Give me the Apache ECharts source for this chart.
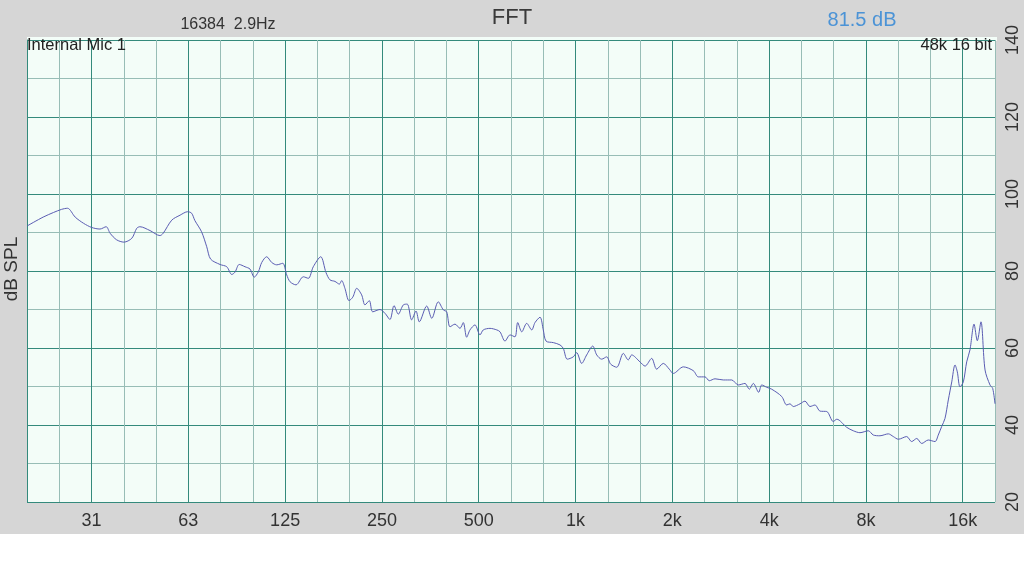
<!DOCTYPE html>
<html><head><meta charset="utf-8">
<script src="https://cdn.jsdelivr.net/npm/echarts@6/dist/echarts.min.js"></script>
<style>html,body{margin:0;padding:0;background:#fff}#c{width:1024px;height:576px}</style>
</head><body><div id="c"></div>
<script>
// Frequencies (Hz) of the traced curve points
const freqs = [19.7,22.1,23.8,25.2,26.3,27.8,29.5,31.3,33.2,34.7,35.7,37.4,39.4,41.7,43.2,44.2,47.5,51.0,52.2,55.5,
58.9,62.2,64.0,65.5,68.7,71.3,73.3,78.4,82.3,85.3,87.3,90.0,93.8,97.2,100.2,103.2,105.7,109.5,113.6,117.7,
122.9,126.4,129.5,135.1,142.4,147.6,152.9,161.3,167.5,172.3,178.6,184.3,187.4,191.8,197.5,202.9,208.7,216.2,221.4,228.4,
234.0,246.5,255.6,264.8,272.6,281.1,291.4,299.7,309.3,319.1,326.7,344.5,357.2,374.2,388.1,397.5,407,421.8,437.2,447.6,
458.6,469.7,486.7,504.6,516.6,542.1,568.9,582.4,603.5,625.6,648.3,660.9,680.4,705,730.8,748.1,775.5,793.8,809.6,853,
894.6,916,942.5,984.1,1008,1045,1083,1131,1164,1206,1250,1286,1343,1408,1459,1495,1586,1645,1725,1788,
1875,1957,2014,2164,2325,2409,2527,2606,2715,2881,3059,3208,3365,3470,3571,3712,3793,3931,4075,4377,
4536,4644,4755,4990,5171,5360,5554,5761,6043,6330,6492,6970,7308,7666,8135,8432,8845,9390,9732,10090,
10710,11100,11510,11930,12500,13120,13430,13760,14090,14430,14790,15140,15390,15690,16070,16460,16850,17350,17760,18230,
18770,19450,19830,20160];
// Sound pressure level (dB SPL) at those frequencies
const spl = [91.7,94.0,95.2,96.0,96.3,94.0,92.4,91.3,90.9,91.5,89.8,88.1,87.5,88.5,91.1,91.5,90.5,89.2,89.8,93.2,
94.5,95.4,95.0,93.1,90.2,86.3,83.1,81.7,81.1,79.1,79.7,81.7,81.1,80.5,78.4,79.8,82.2,83.7,82.2,81.6,
82.0,79.0,77.2,76.4,78.5,78.1,81.1,83.7,79.6,77.7,77.3,76.6,77.5,75.5,72.3,73.2,75.5,73.8,71.2,72.3,
69.4,70.0,69.0,67.4,71.0,68.8,71.2,71.4,67.3,69.6,66.8,70.9,67.7,72.0,69.9,69.4,65.5,66.2,65.1,66.6,
62.8,64.7,66.0,63.4,64.7,65.1,64.7,64.2,61.8,63.4,62.9,66.6,64.2,66.4,64.7,66.6,68.0,64.7,61.8,61.4,
60.8,59.9,57.1,57.7,58.8,56.0,58.2,60.5,58.2,57.1,57.7,55.8,55.0,58.6,56.9,58.2,56.4,55.3,57.3,54.5,
56.0,54.5,53.4,55.1,54.1,52.5,52.5,51.5,52.0,51.7,51.7,50.4,50.8,49.3,50.8,48.5,50.4,49.8,49.3,47.4,
45.2,45.5,44.8,45.5,46.2,44.8,45.2,43.6,43.5,40.9,41.5,39.4,38.5,38.0,38.5,37.4,37.2,37.7,37.0,36.3,
37.0,35.7,36.5,35.2,36.1,35.7,37.4,39.6,41.7,46.5,51.2,55.6,53.8,49.9,51.2,56.4,59.5,66.2,61.9,66.8,
54.3,50.4,49.5,45.5];
// Octave tick frequencies and their labels
const tickFreqs = [31.25,62.5,125,250,500,1000,2000,4000,8000,16000];
const tickLabels = ['31','63','125','250','500','1k','2k','4k','8k','16k'];
// Labelled dB ticks
const yTickLabels = [20,40,60,80,100,120,140];

const FONT = "'Liberation Sans', Arial, sans-serif";
const MAJ = '#348a7c';
const MIN = '#97bdb6';
const MINT = '#f3fdf8';
const GRAY = '#d6d6d6';
const toThirds = f => 3 * Math.log2(f / 1000);

const chart = echarts.init(document.getElementById('c'), null, {renderer: 'canvas'});
chart.setOption({
  animation: false,
  backgroundColor: '#ffffff',
  grid: {left: 27, right: 29, top: 40, bottom: 74, show: true, backgroundColor: MINT, borderWidth: 0},
  xAxis: {
    type: 'value', min: -17, max: 13, interval: 1,
    axisLine: {show: false}, axisTick: {show: false},
    splitLine: {show: true, showMinLine: true, showMaxLine: true, lineStyle: {color: [MIN, MIN, MAJ], width: 1}},
    axisLabel: {
      interval: 0, margin: 10, fontSize: 18, color: '#333', fontFamily: FONT, hideOverlap: false,
      formatter: v => {
        const i = tickFreqs.findIndex(f => Math.abs(toThirds(f) - v) < 0.01);
        return i >= 0 ? tickLabels[i] : '';
      }
    }
  },
  yAxis: [{
    type: 'value', position: 'right', min: 20, max: 140, interval: 10,
    axisLine: {show: false}, axisTick: {show: false},
    splitLine: {show: true, showMinLine: true, showMaxLine: true, lineStyle: {color: [MAJ, MIN], width: 1}},
    axisLabel: {
      rotate: 90, margin: 9, fontSize: 18, color: '#333', fontFamily: FONT,
      formatter: v => yTickLabels.includes(v) ? String(v) : ''
    }
  }, {
    type: 'value', position: 'left', min: 20, max: 140,
    axisLine: {show: true, lineStyle: {color: MAJ, width: 1}},
    axisTick: {show: false}, axisLabel: {show: false}, splitLine: {show: false}
  }],
  series: [{
    type: 'line', yAxisIndex: 0, showSymbol: false, symbol: 'none', smooth: 0.3,
    clip: true,
    lineStyle: {color: '#5a5cb2', width: 1},
    data: freqs.map((f, i) => [toThirds(f), spl[i]])
  }],
  graphic: [
    {type: 'rect', z: -100, silent: true, shape: {x: 0, y: 0, width: 1024, height: 534}, style: {fill: GRAY}},
    {type: 'rect', z: -50, silent: true, shape: {x: 27, y: 37, width: 970, height: 4}, style: {fill: MINT}},
    {type: 'text', z: 100, x: 512, y: 18, style: {text: 'FFT', font: '22px ' + FONT, fill: '#3a3a3a', textAlign: 'center', textVerticalAlign: 'middle'}},
    {type: 'text', z: 100, x: 228, y: 25, style: {text: '16384  2.9Hz', font: '16px ' + FONT, fill: '#333', textAlign: 'center', textVerticalAlign: 'middle'}},
    {type: 'text', z: 100, x: 862, y: 20, style: {text: '81.5 dB', font: '20px ' + FONT, fill: '#4b93d6', textAlign: 'center', textVerticalAlign: 'middle'}},
    {type: 'text', z: 100, x: 27, y: 45, style: {text: 'Internal Mic 1', font: '16.5px ' + FONT, fill: '#222', textAlign: 'left', textVerticalAlign: 'middle'}},
    {type: 'text', z: 100, x: 992, y: 45, style: {text: '48k 16 bit', font: '16.5px ' + FONT, fill: '#222', textAlign: 'right', textVerticalAlign: 'middle'}},
    {type: 'text', z: 100, x: 12, y: 269, rotation: Math.PI / 2, style: {text: 'dB SPL', font: '19px ' + FONT, fill: '#333', textAlign: 'center', textVerticalAlign: 'middle'}}
  ]
});
</script></body></html>
